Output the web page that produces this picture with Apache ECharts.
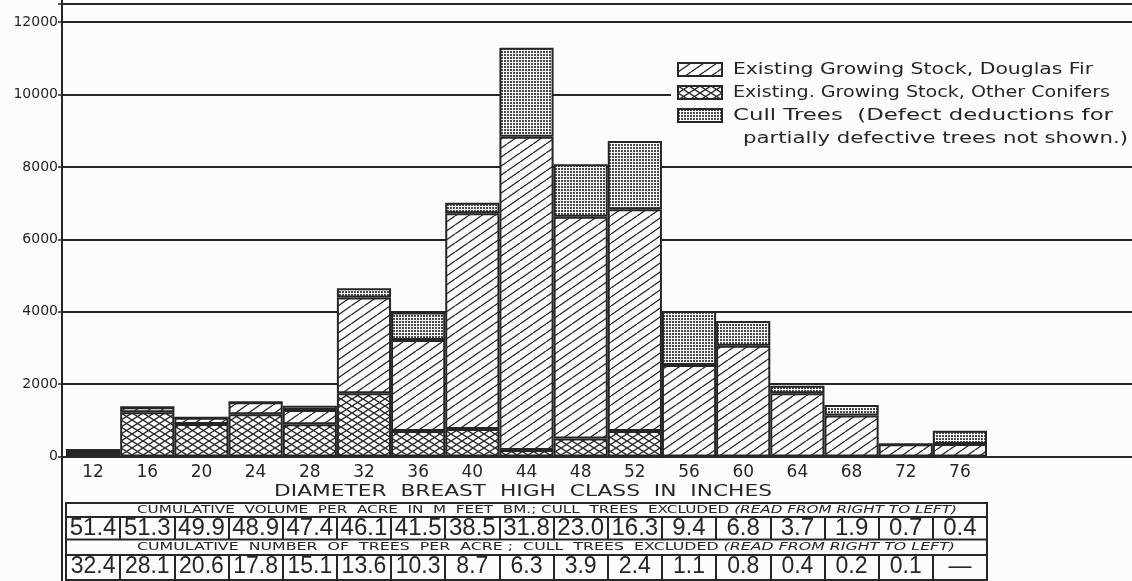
<!DOCTYPE html>
<html><head><meta charset="utf-8">
<script src="https://cdn.jsdelivr.net/npm/echarts@6/dist/echarts.min.js"></script>
<style>html,body{margin:0;padding:0;background:#fcfcfb}#c{width:1132px;height:581px}</style>
</head><body><div id="c"></div>
<script>
// ---- data ----
const categories = ['12','16','20','24','28','32','36','40','44','48','52','56','60','64','68','72','76'];
const otherConifers = [100,1220,900,1165,890,1745,705,760,180,500,705,0,0,0,0,0,0];
const douglasFir    = [80,140,170,335,395,2645,2515,5960,8655,6125,6125,2530,3060,1745,1130,335,345];
const cullTrees     = [0,0,0,0,115,255,760,290,2455,1445,1885,1490,685,210,290,0,365];
const volumeCum = ['51.4','51.3','49.9','48.9','47.4','46.1','41.5','38.5','31.8','23.0','16.3','9.4','6.8','3.7','1.9','0.7','0.4'];
const treesCum  = ['32.4','28.1','20.6','17.8','15.1','13.6','10.3','8.7','6.3','3.9','2.4','1.1','0.8','0.4','0.2','0.1','—'];
const seriesNames = ['Existing Growing Stock, Douglas Fir','Existing. Growing Stock, Other Conifers','Cull Trees  (Defect deductions for'];
const legendExtra = 'partially defective trees not shown.)';
const xTitle = 'DIAMETER  BREAST  HIGH  CLASS  IN  INCHES';
const head1 = ['CUMULATIVE  VOLUME  PER  ACRE  IN  M  FEET  BM.; CULL  TREES  EXCLUDED ', '(READ FROM RIGHT TO LEFT)'];
const head2 = ['CUMULATIVE  NUMBER  OF  TREES  PER  ACRE ;  CULL  TREES  EXCLUDED ', '(READ FROM RIGHT TO LEFT)'];

// ---- patterns ----
const BG = '#fcfcfb', INK = '#262626';
function tile(w, h, draw) {
  const c = document.createElement('canvas'); c.width = w; c.height = h;
  const g = c.getContext('2d'); g.fillStyle = BG; g.fillRect(0, 0, w, h);
  draw(g, w, h); return c;
}
const diagTile = tile(13, 9, (g, w, h) => {
  g.strokeStyle = INK; g.lineWidth = 1.25;
  for (let k = -1; k <= 1; k++) { g.beginPath(); g.moveTo(k * w, h); g.lineTo(k * w + w, 0); g.stroke(); }
});
const crossTile = tile(11, 7, (g, w, h) => {
  g.strokeStyle = INK; g.lineWidth = 1.35;
  for (let k = -1; k <= 1; k++) {
    g.beginPath(); g.moveTo(k * w, h); g.lineTo(k * w + w, 0); g.stroke();
    g.beginPath(); g.moveTo(k * w, 0); g.lineTo(k * w + w, h); g.stroke();
  }
});
const dotTile = tile(3, 3, (g) => { g.fillStyle = '#4a4a4a'; g.fillRect(0, 0, 2, 2); });
const pat = (c) => ({ image: c, repeat: 'repeat' });

function measure(text, font) {
  const g = document.createElement('canvas').getContext('2d'); g.font = font; return g.measureText(text).width;
}
const FF = 'DejaVu Sans';
function stretched(x, y, width, parts, size) {
  const w = measure(parts[0], size + 'px "' + FF + '"') + (parts[1] ? measure(parts[1], 'italic ' + size + 'px "' + FF + '"') : 0);
  return {
    type: 'text', x: x, y: y, scaleX: width / w, z: 12,
    style: {
      text: '{n|' + parts[0] + '}' + (parts[1] ? '{i|' + parts[1] + '}' : ''),
      align: 'left', verticalAlign: 'middle',
      rich: {
        n: { fontSize: size, fontFamily: FF, fill: INK },
        i: { fontSize: size, fontFamily: FF, fontStyle: 'italic', fill: INK }
      }
    }
  };
}

const chart = echarts.init(document.getElementById('c'));
const lineStyle = { color: INK, width: 2 };
const barBase = { type: 'bar', stack: 'total', xAxisIndex: 0, yAxisIndex: 0, barCategoryGap: 0, barWidth: '100%', silent: true };
const tableAxis = (offset, len, labels, size, margin) => ({
  type: 'category', gridIndex: 0, data: categories, position: 'bottom', offset: offset,
  axisLine: { show: true, lineStyle: lineStyle },
  axisTick: { show: true, interval: 0, length: len, lineStyle: lineStyle },
  axisLabel: { interval: 0, formatter: (v, i) => labels[i], fontSize: size, fontFamily: 'Liberation Sans', color: INK, verticalAlign: 'middle', margin: margin },
  splitLine: { show: false }
});

chart.setOption({
  backgroundColor: BG,
  animation: false,
  grid: [
    { left: 66, right: 145, top: 4, bottom: 124.5 },
    { left: 62, right: 0, top: 4, bottom: 124.5 }
  ],
  xAxis: [
    { type: 'category', gridIndex: 0, data: categories,
      axisLine: { show: false }, axisTick: { show: false },
      axisLabel: { interval: 0, fontSize: 17, fontFamily: FF, color: INK, margin: 8 } },
    { type: 'value', gridIndex: 1, min: 0, max: 1, show: false },
    tableAxis(60, 23, volumeCum, 24, 12),
    tableAxis(98, 26, treesCum, 23, 12.5)
  ],
  yAxis: [
    { type: 'value', gridIndex: 0, min: 0, max: 12500, show: false, splitLine: { show: false } },
    { type: 'value', gridIndex: 1, min: 0, max: 12500, interval: 2000,
      axisLine: { show: true, lineStyle: lineStyle },
      axisTick: { show: true, length: 4, lineStyle: { color: INK, width: 1.5 } },
      axisLabel: { fontSize: 14, fontFamily: FF, color: INK, margin: 4,
        formatter: (v) => (v % 2000 === 0 ? String(v) : '') },
      splitLine: { show: true, lineStyle: lineStyle } }
  ],
  legend: {
    orient: 'vertical', left: 677, top: 62, padding: 0, itemGap: 8, z: 11,
    itemWidth: 44, itemHeight: 13, icon: 'rect', selectedMode: false,
    data: [seriesNames[0], seriesNames[1], seriesNames[2]],
    formatter: () => ' ',
    textStyle: { fontSize: 6, lineHeight: 6, fontFamily: FF, color: INK }
  },
  series: [
    Object.assign({}, barBase, { name: seriesNames[1], data: otherConifers,
      itemStyle: { color: pat(crossTile), borderColor: INK, borderWidth: 2 } }),
    Object.assign({}, barBase, { name: seriesNames[0], data: douglasFir,
      itemStyle: { color: pat(diagTile), borderColor: INK, borderWidth: 2 } }),
    Object.assign({}, barBase, { name: seriesNames[2], data: cullTrees,
      itemStyle: { color: pat(dotTile), borderColor: INK, borderWidth: 2 } })
  ],
  graphic: [
    { type: 'rect', z: 5, shape: { x: 671, y: 52, width: 461, height: 102 }, style: { fill: BG, stroke: null } },
    stretched(733, 70, 360, [seriesNames[0]], 16),
    stretched(733, 92.5, 377, [seriesNames[1]], 16),
    stretched(733, 115.5, 380, [seriesNames[2]], 16),
    stretched(743, 139, 385, [legendExtra], 16),
    stretched(274, 492, 498, [xTitle], 16),
    stretched(137, 510, 820, head1, 11),
    stretched(137, 547, 818, head2, 11),
    { type: 'rect', z: 10, shape: { x: 66, y: 503, width: 921, height: 77 }, style: { fill: null, stroke: INK, lineWidth: 2 } },
    { type: 'line', z: 10, shape: { x1: 66, y1: 539.5, x2: 987, y2: 539.5 }, style: { stroke: INK, lineWidth: 2 } },
    { type: 'line', z: 10, shape: { x1: 62, y1: 0, x2: 62, y2: 581 }, style: { stroke: INK, lineWidth: 2 } }
  ]
});
</script></body></html>
